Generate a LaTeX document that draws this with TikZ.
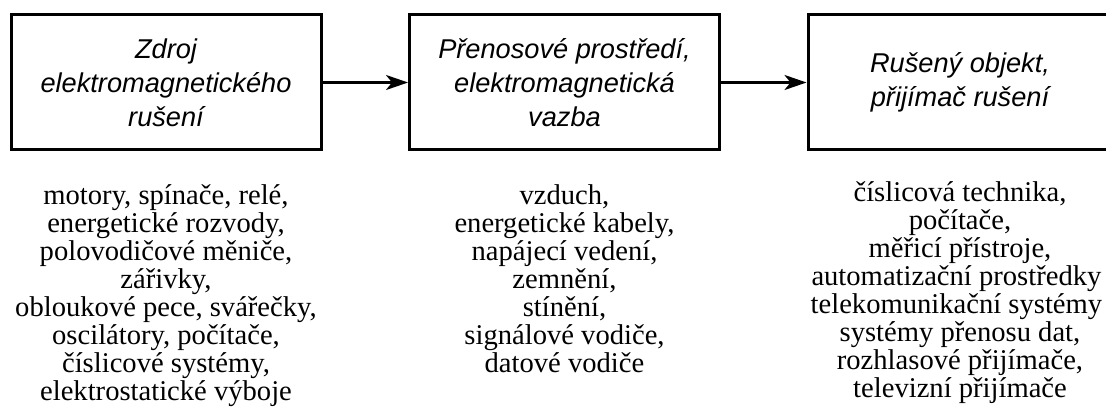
\documentclass[tikz,border=0pt]{standalone}
\usepackage{fontspec}
\setmainfont{Liberation Serif}
\newfontfamily\boxfont{Liberation Sans}
\usetikzlibrary{arrows.meta}
\tikzset{
  blockbox/.style={draw=black, line width=3pt, minimum width=310pt, minimum height=135pt,
    inner sep=0pt, align=center, font=\boxfont\itshape\fontsize{27.2}{34}\selectfont},
  listtext/.style={anchor=north, inner sep=0pt, align=center,
    font=\fontsize{28.6}{28.1}\selectfont},
  flow/.style={line width=2.4pt, -{Stealth[length=22pt, width=15pt, inset=6pt]}}
}
\begin{document}
\begin{tikzpicture}[x=1pt,y=-1pt]
\useasboundingbox (0,0) rectangle (1106,409);
\clip (0,0) rectangle (1106,409);
\node[blockbox] (src) at (166,82.5) {Zdroj\\elektromagnetického\\rušení};
\node[blockbox] (med) at (564.5,82.5) {Přenosové prostředí,\\elektromagnetická\\vazba};
\node[blockbox, minimum width=304pt] (obj) at (960,82.5) {Rušený objekt,\\přijímač rušení};
\draw[flow] (src.east) -- (med.west);
\draw[flow] (med.east) -- (obj.west);
\node[listtext] (srclist) at (166,184) {motory, spínače, relé,\\energetické rozvody,\\polovodičové měniče,\\zářivky,\\obloukové pece, svářečky,\\oscilátory, počítače,\\číslicové systémy,\\elektrostatické výboje};
\node[listtext] (medlist) at (564.5,184) {vzduch,\\energetické kabely,\\napájecí vedení,\\zemnění,\\stínění,\\signálové vodiče,\\datové vodiče};
\node[listtext] (objlist) at (960,181) {číslicová technika,\\počítače,\\měřicí přístroje,\\automatizační prostředky\phantom{,}\\telekomunikační systémy\phantom{,}\\systémy přenosu dat,\\rozhlasové přijímače,\\televizní přijímače};
\end{tikzpicture}
\end{document}
